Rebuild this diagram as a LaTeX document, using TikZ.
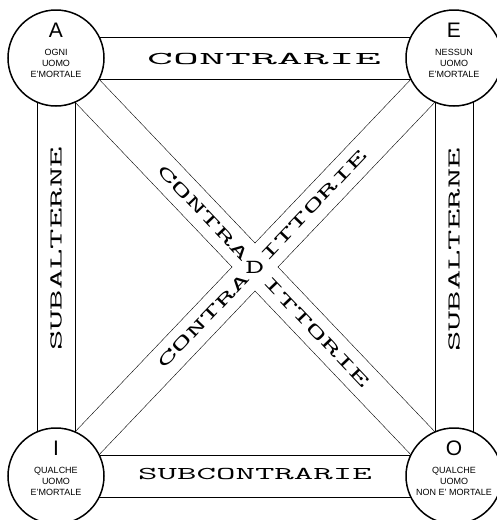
\documentclass[tikz,border=0pt]{standalone}
\usepackage{fontspec}
\setmainfont{Liberation Sans}
\usepackage{graphicx}
\usetikzlibrary{calc,backgrounds}

\begin{document}
\begin{tikzpicture}[x=1pt,y=-1pt,line width=1.5pt,
    vertex/.style={circle,draw,fill=white,minimum size=96pt,inner sep=0pt},
    letter/.style={font=\fontsize{21}{21}\selectfont,inner sep=0pt},
    caption/.style={font=\fontsize{9}{11}\selectfont,align=center,inner sep=0pt},
    bandtext/.style={font=\ttfamily\fontsize{18}{18}\selectfont,inner sep=0pt}]
  \useasboundingbox (0,0) rectangle (497,520);

  % the four corners
  \node[vertex] (A) at (56,58) {};
  \node[vertex] (E) at (454,58) {};
  \node[vertex] (I) at (56,476) {};
  \node[vertex] (O) at (454,476) {};
  \node[letter] (A-l) at ($(A)+(0,-28)$) {A};
  \node[letter] (E-l) at ($(E)+(0,-28)$) {E};
  \node[letter] (I-l) at ($(I)+(0,-28)$) {I};
  \node[letter] (O-l) at ($(O)+(0,-28)$) {O};
  \node[caption] (A-c) at ($(A)+(0,5)$) {OGNI\\UOMO\\E'MORTALE};
  \node[caption] (E-c) at ($(E)+(0,5)$) {NESSUN\\UOMO\\E'MORTALE};
  \node[caption] (I-c) at ($(I)+(0,5)$) {QUALCHE\\UOMO\\E'MORTALE};
  \node[caption] (O-c) at ($(O)+(0,5)$) {QUALCHE\\UOMO\\NON E' MORTALE};

  % crossing of the diagonals
  \coordinate (X) at ($(A)!0.5!(O)$);
  \coordinate (vn) at ($(X)+(0,-24)$);
  \coordinate (vs) at ($(X)+(0,24)$);
  \coordinate (vw) at ($(X)+(-23,0)$);
  \coordinate (ve) at ($(X)+(23,0)$);

  \begin{scope}[on background layer]
    % sides
    \draw ([yshift=21pt]A.center) -- ([yshift=21pt]E.center);
    \draw ([yshift=-21pt]A.center) -- ([yshift=-21pt]E.center);
    \draw ([yshift=21pt]I.center) -- ([yshift=21pt]O.center);
    \draw ([yshift=-21pt]I.center) -- ([yshift=-21pt]O.center);
    \draw ([xshift=-19pt]A.center) -- ([xshift=-19pt]I.center);
    \draw ([xshift=19pt]A.center) -- ([xshift=19pt]I.center);
    \draw ([xshift=-19pt]E.center) -- ([xshift=-19pt]O.center);
    \draw ([xshift=19pt]E.center) -- ([xshift=19pt]O.center);
    % diagonals
    \draw ($(vn)+(A)-(X)$) -- (vn) -- ($(vn)+(E)-(X)$);
    \draw ($(vw)+(A)-(X)$) -- (vw) -- ($(vw)+(I)-(X)$);
    \draw ($(ve)+(E)-(X)$) -- (ve) -- ($(ve)+(O)-(X)$);
    \draw ($(vs)+(I)-(X)$) -- (vs) -- ($(vs)+(O)-(X)$);
  \end{scope}

  % band labels
  \node[bandtext] (contr) at ($(A)!0.5!(E)+(9,1)$) {\scalebox{2.8}[1]{CONTRARIE}};
  \node[bandtext] (subcontr) at ($(I)!0.5!(O)+(0,-2)$) {\scalebox{2.1}[1]{SUBCONTRARIE}};
  \node[bandtext,rotate=90] (sub-l) at ($(A)!0.5!(I)+(0,-18)$) {\scalebox{2.2}[1]{SUBALTERNE}};
  \node[bandtext,rotate=90] (sub-r) at ($(E)!0.5!(O)+(0,-17)$) {\scalebox{2.2}[1]{SUBALTERNE}};
  \node[bandtext,font=\ttfamily\fontsize{20}{20}\selectfont] (D) at (X) {\scalebox{1.8}[1]{D}};
  \node[bandtext,rotate=-46.4,anchor=east] (ao-1) at ($(X)!11pt!(A)$) {\scalebox{2.25}[1]{CONTRA}};
  \node[bandtext,rotate=-46.4,anchor=west] (ao-2) at ($(X)!16pt!(O)$) {\scalebox{2.25}[1]{ITTORIE}};
  \node[bandtext,rotate=46.4,anchor=east] (ie-1) at ($(X)!11pt!(I)$) {\scalebox{2.25}[1]{CONTRA}};
  \node[bandtext,rotate=46.4,anchor=west] (ie-2) at ($(X)!11pt!(E)$) {\scalebox{2.25}[1]{ITTORIE}};
\end{tikzpicture}
\end{document}
